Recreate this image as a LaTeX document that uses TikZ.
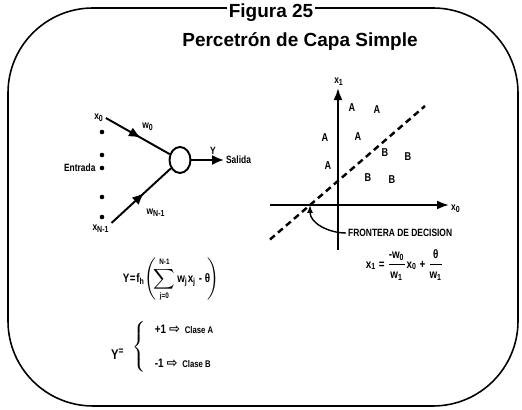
\documentclass[tikz,border=0pt]{standalone}
\usepackage{fontspec}
\setmainfont{Liberation Sans}
\newfontfamily\narrowfont[FakeStretch=0.8]{Liberation Sans}
\newfontfamily\symfont{DejaVu Sans}
\usepackage{amsmath}
\newcommand{\ftxt}[2][8]{\text{\narrowfont\bfseries\fontsize{#1}{#1}\selectfont #2}}
\newcommand{\farrow}{\text{\symfont\bfseries\fontsize{7.5}{7.5}\selectfont ⇨}}
\usetikzlibrary{arrows.meta, positioning, calc, decorations.markings, shapes.geometric}
\tikzset{
    outerframe/.style={draw, line width=0.9pt, rounded corners=1.7cm},
    titletext/.style={font=\fontsize{10.8}{13}\selectfont\bfseries, inner sep=1pt},
    neuron/.style={draw, ellipse, line width=1.1pt, minimum width=0.42cm, minimum height=0.52cm, inner sep=0pt},
    inputdot/.style={fill, circle, inner sep=0pt, minimum size=2.6pt},
    weightline/.style={line width=1.1pt, postaction={decorate}, decoration={markings, mark=at position 0.55 with {\arrow{Latex[length=2.4mm, width=2mm]}}}},
    outarrow/.style={-{Latex[length=2.4mm, width=2mm]}, line width=1.1pt},
    plotaxis/.style={-{Latex[length=2.4mm, width=1.8mm]}, line width=1.1pt},
    decisionline/.style={line width=1.4pt, dash pattern=on 3.6pt off 2.4pt},
    smalllabel/.style={font=\narrowfont\bfseries\fontsize{6}{7}\selectfont, inner sep=1pt},
    classletter/.style={font=\narrowfont\bfseries\fontsize{6.5}{7}\selectfont, inner sep=1pt},
    formula/.style={font=\fontsize{8}{9.6}\selectfont\boldmath, inner sep=1pt},
}

\begin{document}
\begin{tikzpicture}
    \useasboundingbox (0,0) rectangle (10.44,8.2);

    % Frame and title
    \draw[outerframe] (0.16,0.08) rectangle (10.36,8.04);
    \node[titletext, fill=white] (title) at (5.42,7.94) {Figura 25};
    \node[titletext] (subtitle) at (6.0,7.36) {Percetrón de Capa Simple};

    % Perceptron
    \node[neuron] (neuron) at (3.6,5.0) {};
    \node[smalllabel] (x0) at (1.98,5.84) {x\textsubscript{0}};
    \node[smalllabel] (xN) at (2.02,3.62) {x\textsubscript{N-1}};
    \foreach \y [count=\i] in {5.56, 5.10, 4.84, 4.26, 3.86}
        \node[inputdot] (dot\i) at (2.04,\y) {};
    \node[smalllabel, left=1pt of dot3] (entrada) {Entrada};
    \draw[weightline] (x0.east) -- (neuron);
    \draw[weightline] (xN.north east) -- (neuron);
    \node[smalllabel] (w0) at (2.96,5.66) {w\textsubscript{0}};
    \node[smalllabel] (wN) at (3.12,3.94) {w\textsubscript{N-1}};
    \node[smalllabel, anchor=west] (salida) at (4.48,5.0) {Salida};
    \draw[outarrow] (neuron.east) -- (salida.west);
    \node[smalllabel] (ylab) at (4.26,5.18) {Y};

    % Formulas
    \node[formula] (fsum) at (3.42,2.6) {$\displaystyle\ftxt[7]{Y\kern.3pt=\kern.3pt f\textsubscript{h}}\!\left(\!\sum_{\ftxt[4.5]{j=0}}^{\ftxt[4.5]{N-1}}\!\ftxt[7]{\,w\textsubscript{j}x\textsubscript{j} - θ}\!\right)$};
    \node[formula, anchor=west] (fclass) at (2.18,1.26) {$\raisebox{-5pt}{\ftxt{Y\textsuperscript{=}}}\;\left\{\begin{array}{@{\;\;}l@{}}
        \ftxt[7]{+1}\,\farrow\;\ftxt[5.5]{Clase A}\\[10pt]
        \ftxt[7]{-1}\,\farrow\;\ftxt[5.5]{Clase B}
        \end{array}\right.$};

    % Decision plane
    \coordinate (vbot) at (6.76,3.2);
    \coordinate (hleft) at (5.4,4.1);
    \node[smalllabel] (x1lab) at (6.78,6.56) {x\textsubscript{1}};
    \node[smalllabel, anchor=west] (x0lab) at (8.98,4.02) {x\textsubscript{0}};
    \draw[plotaxis] (vbot) -- (x1lab.south -| vbot);
    \draw[plotaxis] (hleft) -- (hleft -| x0lab.west);
    \coordinate (bstart) at (5.4,3.41);
    \coordinate (bend) at (8.5,6.08);
    \coordinate (cross) at (6.2,4.1);
    \draw[decisionline] (bstart) -- (bend);
    \foreach \p [count=\i] in {{7.04,6.04}, {7.54,6.0}, {6.5,5.44}, {7.16,5.46}, {6.56,4.88}}
        \node[classletter] (a\i) at (\p) {A};
    \foreach \p [count=\i] in {{7.7,5.14}, {8.16,5.06}, {7.36,4.64}, {7.84,4.6}}
        \node[classletter] (b\i) at (\p) {B};
    \node[smalllabel, anchor=west] (frontera) at (6.92,3.54) {FRONTERA DE DECISION};
    \draw[-{Latex[length=1.6mm]}, line width=0.8pt] (frontera.west) to[out=180, in=-90] (cross);
    \node[formula] (fline) at (8.1,2.9) {$\ftxt[7]{x\textsubscript{1} =\,}\dfrac{\ftxt[7]{-w\textsubscript{0}}}{\ftxt[7]{w\textsubscript{1}}}\ftxt[7]{x\textsubscript{0} +\,}\dfrac{\ftxt[7]{θ}}{\ftxt[7]{w\textsubscript{1}}}$};
\end{tikzpicture}
\end{document}
